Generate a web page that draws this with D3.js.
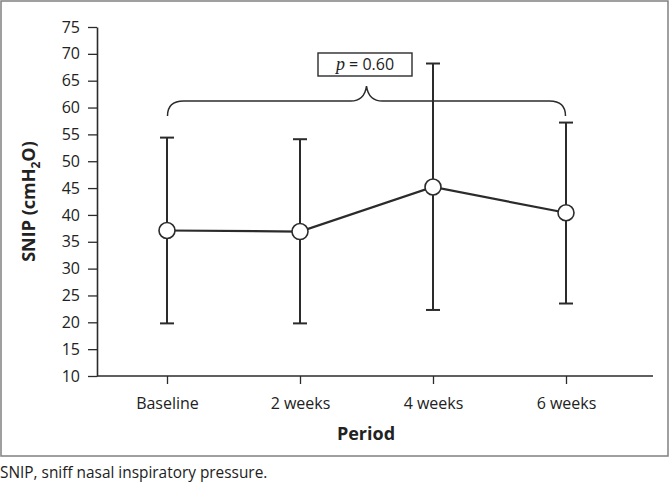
<!DOCTYPE html>
<html>
<head>
<meta charset="utf-8">
<script src="https://cdn.jsdelivr.net/npm/d3@7"></script>
<style>
  html, body { margin: 0; padding: 0; background: #fff; }
  svg { display: block; }
</style>
</head>
<body>
<svg id="chart" width="670" height="485"></svg>
<script>
const categories = ["Baseline", "2 weeks", "4 weeks", "6 weeks"];
const means = [37.1, 36.9, 45.2, 40.4];
const upper = [54.4, 54.1, 68.2, 57.2];
const lower = [19.8, 19.8, 22.3, 23.5];
const yTicks = [10, 15, 20, 25, 30, 35, 40, 45, 50, 55, 60, 65, 70, 75];
const pLabel = "0.60";
const caption = "SNIP, sniff nasal inspiratory pressure.";

const svg = d3.select("#chart");
const ink = "#2b2b2b";
const font = "'Open Sans', sans-serif";

// outer frame
svg.append("rect").attr("x", 1).attr("y", 1).attr("width", 667).attr("height", 455)
  .attr("fill", "none").attr("stroke", "#808080").attr("stroke-width", 1.5);

const y = d3.scaleLinear().domain([10, 75]).range([376, 27]);
const x = d3.scalePoint().domain(categories).range([167, 566]).padding(0);
const axisLeftX = 97, axisRightX = 653;

// y axis
const yAxis = svg.append("g").attr("transform", `translate(${axisLeftX},0)`)
  .call(d3.axisLeft(y).tickValues(yTicks).tickSize(9).tickPadding(8).tickSizeOuter(0));
yAxis.select(".domain").attr("stroke", ink).attr("stroke-width", 1.6);
yAxis.selectAll(".tick line").attr("stroke", ink).attr("stroke-width", 1.3);
yAxis.selectAll(".tick text").attr("font-family", font).attr("font-size", 16).attr("fill", "#222");

// x axis line
svg.append("line").attr("x1", axisLeftX).attr("x2", axisRightX)
  .attr("y1", y(10)).attr("y2", y(10)).attr("stroke", ink).attr("stroke-width", 1.6);
const xAxis = svg.append("g").attr("transform", `translate(0,${y(10)})`)
  .call(d3.axisBottom(x).tickSize(8).tickPadding(14).tickSizeOuter(0));
xAxis.select(".domain").remove();
xAxis.selectAll(".tick line").attr("stroke", ink).attr("stroke-width", 1.3);
xAxis.selectAll(".tick text").attr("font-family", font).attr("font-size", 16).attr("fill", "#222");

// axis titles
svg.append("text").attr("x", 366).attr("y", 440).attr("text-anchor", "middle")
  .attr("font-family", font).attr("font-weight", "bold").attr("font-size", 18).attr("fill", "#222")
  .text("Period");
const yt = svg.append("text").attr("transform", `translate(35,${(y(10)+y(75))/2}) rotate(-90)`)
  .attr("text-anchor", "middle").attr("font-family", font).attr("font-weight", "bold")
  .attr("font-size", 18).attr("fill", "#222");
yt.append("tspan").text("SNIP (cmH");
yt.append("tspan").attr("font-size", 12).attr("dy", 5).text("2");
yt.append("tspan").attr("dy", -5).text("O)");

// error bars
const cap = 7;
const eb = svg.append("g").attr("stroke", ink).attr("stroke-width", 2);
categories.forEach((c, i) => {
  const cx = x(c);
  eb.append("line").attr("x1", cx).attr("x2", cx).attr("y1", y(upper[i])).attr("y2", y(lower[i]));
  eb.append("line").attr("x1", cx - cap).attr("x2", cx + cap).attr("y1", y(upper[i])).attr("y2", y(upper[i]));
  eb.append("line").attr("x1", cx - cap).attr("x2", cx + cap).attr("y1", y(lower[i])).attr("y2", y(lower[i]));
});

// mean line
const line = d3.line().x((d, i) => x(categories[i])).y(d => y(d));
svg.append("path").datum(means).attr("d", line).attr("fill", "none")
  .attr("stroke", ink).attr("stroke-width", 2.2);

// points
svg.selectAll("circle.pt").data(means).join("circle").attr("class", "pt")
  .attr("cx", (d, i) => x(categories[i])).attr("cy", d => y(d)).attr("r", 8)
  .attr("fill", "#fff").attr("stroke", ink).attr("stroke-width", 1.6);

// brace
const bx1 = x(categories[0]) + 0.5, bx2 = x(categories[3]) - 0.5;
const bMid = (bx1 + bx2) / 2;
const bY = 101, bEnd = 116, bTip = 86, r = 16;
const bp = d3.path();
bp.moveTo(bx1, bEnd);
bp.quadraticCurveTo(bx1, bY, bx1 + r, bY);
bp.lineTo(bMid - r, bY);
bp.quadraticCurveTo(bMid - 2, bY, bMid, bTip);
bp.quadraticCurveTo(bMid + 2, bY, bMid + r, bY);
bp.lineTo(bx2 - r, bY);
bp.quadraticCurveTo(bx2, bY, bx2, bEnd);
svg.append("path").attr("d", bp.toString()).attr("fill", "none")
  .attr("stroke", ink).attr("stroke-width", 1.5);

// p-value box
svg.append("rect").attr("x", 318).attr("y", 53).attr("width", 94).attr("height", 23)
  .attr("fill", "#fff").attr("stroke", ink).attr("stroke-width", 1.4);
const pt = svg.append("text").attr("x", 365).attr("y", 70).attr("text-anchor", "middle")
  .attr("font-family", font).attr("font-size", 16).attr("fill", "#222");
pt.append("tspan").attr("font-family", "'Liberation Serif', 'Times New Roman', serif")
  .attr("font-style", "italic").attr("font-size", 18).text("p");
pt.append("tspan").text(" = " + pLabel);

// caption
svg.append("text").attr("x", 0).attr("y", 478).attr("font-family", font)
  .attr("font-size", 15.4).attr("fill", "#222").text(caption);
</script>
</body>
</html>
